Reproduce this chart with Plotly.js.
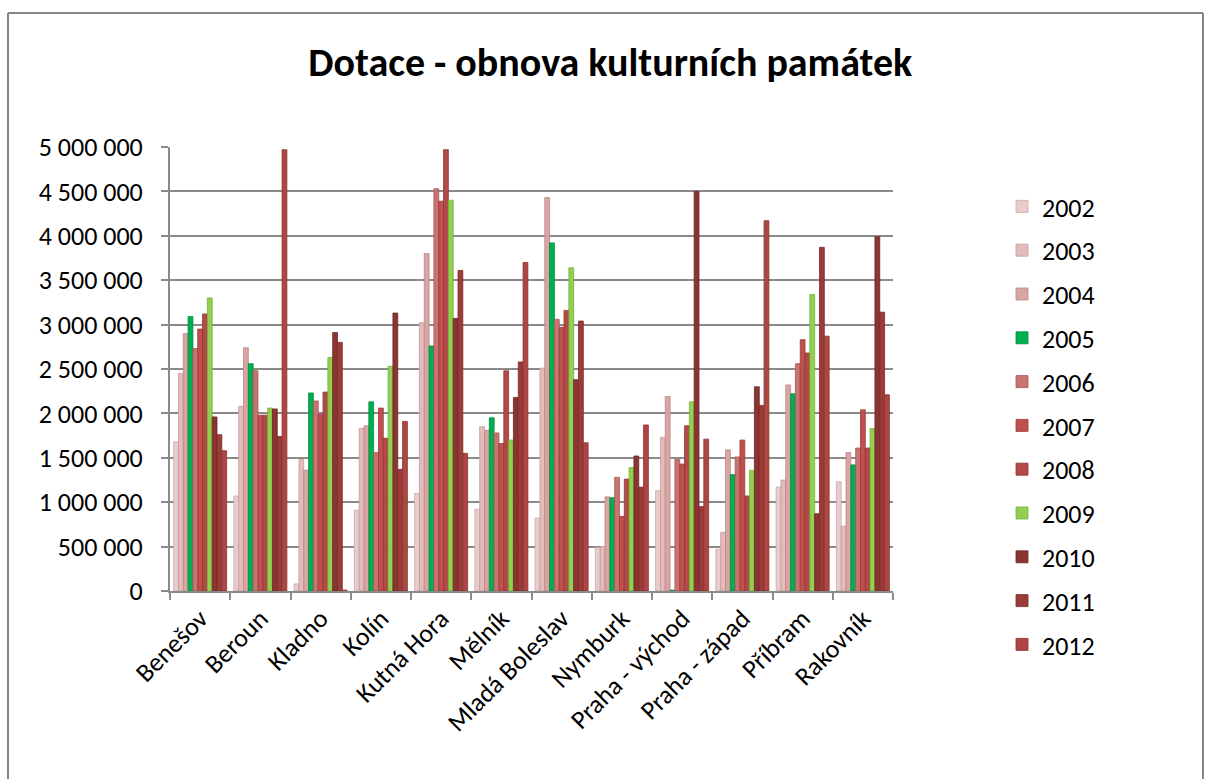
<!DOCTYPE html>
<html>
<head>
<meta charset="utf-8">
<script src="https://cdn.plot.ly/plotly-3.0.1.min.js"></script>
<style>
  html, body { margin: 0; padding: 0; background: #ffffff; }
  #chart { width: 1206px; height: 779px; }
</style>
</head>
<body>
<div id="chart"></div>
<script>
const categories = ["Benešov", "Beroun", "Kladno", "Kolín", "Kutná Hora", "Mělník", "Mladá Boleslav", "Nymburk", "Praha - východ", "Praha - západ", "Příbram", "Rakovník"];
const years = ["2002", "2003", "2004", "2005", "2006", "2007", "2008", "2009", "2010", "2011", "2012"];

const y2002 = [1680000, 1070000, 80000, 910000, 1100000, 920000, 820000, 490000, 1130000, 470000, 1170000, 1230000];
const y2003 = [2450000, 2080000, 1480000, 1830000, 3020000, 1850000, 2510000, 500000, 1730000, 660000, 1250000, 730000];
const y2004 = [2900000, 2740000, 1360000, 1860000, 3800000, 1810000, 4430000, 1060000, 2190000, 1590000, 2320000, 1560000];
const y2005 = [3090000, 2560000, 2230000, 2130000, 2760000, 1950000, 3920000, 1050000, 10000, 1310000, 2220000, 1420000];
const y2006 = [2730000, 2480000, 2140000, 1560000, 4530000, 1780000, 3060000, 1280000, 1480000, 1510000, 2560000, 1610000];
const y2007 = [2950000, 1980000, 1990000, 2060000, 4390000, 1660000, 2970000, 840000, 1430000, 1700000, 2830000, 2040000];
const y2008 = [3120000, 1980000, 2240000, 1720000, 4970000, 2480000, 3160000, 1260000, 1860000, 1070000, 2680000, 1610000];
const y2009 = [3300000, 2060000, 2630000, 2530000, 4400000, 1700000, 3640000, 1390000, 2130000, 1360000, 3340000, 1830000];
const y2010 = [1960000, 2050000, 2910000, 3130000, 3070000, 2180000, 2380000, 1520000, 4500000, 2300000, 870000, 3990000];
const y2011 = [1760000, 1740000, 2800000, 1370000, 3610000, 2580000, 3040000, 1170000, 950000, 2090000, 3870000, 3140000];
const y2012 = [1580000, 4970000, 10000, 1910000, 1550000, 3700000, 1670000, 1870000, 1710000, 4170000, 2870000, 2210000];

const seriesValues = [y2002, y2003, y2004, y2005, y2006, y2007, y2008, y2009, y2010, y2011, y2012];
const colors = ["#E8CCCB", "#E2BBBA", "#D9A5A4", "#00B050", "#C87472", "#C0504D", "#B34A47", "#92D050", "#8B3532", "#9B3C3A", "#AE4744"];
const edgeColors = ["#C9A9A8", "#C49C9B", "#BB8685", "#008A3E", "#A65856", "#9C3B38", "#913633", "#74B038", "#6A2624", "#7A2B29", "#8C3431"];

const FONT = "Carlito, Lato, 'Liberation Sans', sans-serif";

const traces = years.map((yr, i) => ({
  type: "bar",
  name: yr,
  x: categories,
  y: seriesValues[i],
  legendgroup: yr,
  marker: { color: colors[i], line: { color: edgeColors[i], width: 0.8 } },
  hoverinfo: "x+y+name"
}));

// paper coordinate helpers for the outer chart frame
const L = 170, R = 893, T = 147, B = 591;
const px = v => (v - L) / (R - L);
const py = v => (B - v) / (B - T);

const frame = { type: "line", xref: "paper", yref: "paper", line: { color: "#868686", width: 2 } };
const shapes = [
  Object.assign({}, frame, { x0: px(8), x1: px(8), y0: py(13), y1: py(779) }),
  Object.assign({}, frame, { x0: px(8), x1: px(1203), y0: py(13), y1: py(13) }),
  Object.assign({}, frame, { x0: px(1203), x1: px(1203), y0: py(13), y1: py(779) })
];

const layout = {
  width: 1206,
  height: 779,
  margin: { l: L, r: 1206 - R, t: T, b: 779 - B, pad: 0 },
  paper_bgcolor: "#ffffff",
  plot_bgcolor: "#ffffff",
  separators: ", ",
  font: { family: FONT, size: 26, color: "#000000" },
  title: {
    text: "<b>Dotace - obnova kulturních památek</b>",
    font: { family: FONT, size: 40, color: "#000000" },
    xref: "container", yref: "container",
    x: 0.506, xanchor: "center",
    y: 1 - 62 / 779, yanchor: "middle"
  },
  barmode: "group",
  bargap: 0.12,
  bargroupgap: 0,
  showlegend: true,
  legend: {
    x: px(1002), xanchor: "left",
    y: py(183), yanchor: "top",
    font: { family: FONT, size: 26, color: "#000000" },
    tracegroupgap: 7,
    maxheight: 570,
    bgcolor: "rgba(0,0,0,0)"
  },
  xaxis: {
    type: "category",
    tickangle: -45,
    showline: true,
    linecolor: "#8a8a8a",
    linewidth: 2,
    ticks: "outside",
    tickson: "boundaries",
    ticklen: 7,
    tickcolor: "#8a8a8a",
    tickwidth: 2,
    showgrid: false,
    tickfont: { family: FONT, size: 26, color: "#000000" },
    automargin: false
  },
  yaxis: {
    range: [0, 5000000],
    dtick: 500000,
    tick0: 0,
    tickformat: ",d",
    showline: true,
    linecolor: "#8a8a8a",
    linewidth: 2,
    ticks: "outside",
    ticklen: 7,
    tickcolor: "#8a8a8a",
    tickwidth: 2,
    showgrid: true,
    gridcolor: "#8a8a8a",
    gridwidth: 2,
    zeroline: false,
    ticklabelstandoff: 13,
    tickfont: { family: FONT, size: 26, color: "#000000" },
    automargin: false
  },
  shapes: shapes
};

Plotly.newPlot("chart", traces, layout, { displayModeBar: false, staticPlot: true });
</script>
</body>
</html>
